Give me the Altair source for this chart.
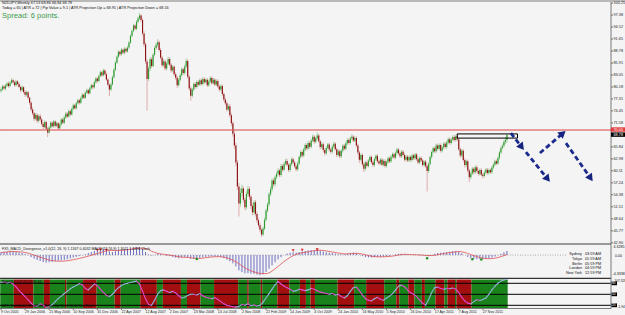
import altair as alt
import pandas as pd

# ---------------- data ----------------
first_open = 79.2
close = [
    79.6, 80.3, 79.8, 80.5, 81.0, 80.4, 81.2, 81.8, 81.3, 80.6,
    81.5, 80.9, 80.2, 79.4, 80.1, 79.0, 78.3, 78.9, 77.6, 76.4,
    74.8, 73.9, 72.6, 73.5, 72.1, 73.2, 72.4, 71.3, 70.6, 71.8,
    70.2, 69.3, 70.5, 71.6, 70.8, 71.9, 70.9, 71.5, 70.3, 71.2,
    72.4, 71.6, 72.9, 73.8, 73.1, 74.4, 73.6, 74.9, 75.8, 75.1,
    76.3, 77.0, 76.4, 77.5, 78.3, 77.6, 78.8, 79.4, 78.7, 79.9,
    80.6, 80.1, 81.3, 82.2, 81.6, 82.8, 83.7, 83.0, 84.1, 83.2,
    82.0, 80.7, 79.6, 80.8, 82.5, 84.3, 86.0, 87.4, 88.6, 88.0,
    89.1, 88.4, 89.3, 88.7, 89.6, 90.8, 92.4, 93.6, 94.9, 94.1,
    95.8, 96.6, 97.3, 96.2, 93.0, 90.4, 86.3, 82.1, 84.6, 86.8,
    85.2, 87.9, 89.5, 90.3, 90.9, 89.0, 87.2, 85.4, 86.3, 84.6,
    85.8, 86.9, 85.5, 84.1, 85.0, 83.2, 82.4, 80.6, 81.9, 83.0,
    84.4, 83.5, 85.1, 86.4, 82.6, 79.8, 78.1, 79.6, 80.9, 80.2,
    81.4, 80.7, 81.8, 80.9, 82.1, 81.3, 81.9, 80.6, 81.5, 82.3,
    81.1, 81.9, 80.8, 81.6, 80.3, 79.6, 80.4, 78.5, 77.2, 76.3,
    74.8, 75.6, 73.4, 71.5, 69.0, 66.2, 62.1, 56.4, 52.3, 54.8,
    55.9, 53.2, 51.4, 54.6, 55.8, 53.9, 51.7, 50.2, 52.6, 49.8,
    48.3, 47.1, 46.0, 44.9, 46.3, 48.4, 50.6, 52.1, 54.5, 55.7,
    57.8, 56.9, 58.6, 59.4, 60.2, 59.1, 61.3, 60.4, 61.8, 62.5,
    61.6, 60.3, 61.7, 62.9, 62.1, 61.2, 60.5, 61.9, 63.4, 64.6,
    63.8, 65.2, 66.3, 65.5, 66.8, 65.9, 67.4, 68.3, 67.1, 67.9,
    68.6, 67.2, 65.8, 66.5, 65.1, 64.3, 65.6, 66.4, 65.2, 64.7,
    65.9, 66.6, 65.3, 63.9, 64.8, 63.6, 64.9, 66.1, 65.4, 66.7,
    67.5, 66.8, 67.9, 68.3, 67.4, 68.0, 66.2, 64.5, 62.8, 63.9,
    61.7, 60.6, 62.1, 61.3, 62.6, 63.4, 62.2, 61.5, 62.9, 63.7,
    62.4, 61.9, 62.8, 61.6, 62.5, 61.3, 62.2, 63.1, 62.4, 63.5,
    64.1, 63.3, 64.4, 65.2, 64.3, 63.6, 64.7, 63.9, 62.8, 63.5,
    62.6, 63.4, 62.7, 63.8, 63.1, 64.0, 62.9, 62.1, 63.2, 62.6,
    61.5, 62.3, 61.2, 60.1, 61.8, 63.4, 64.6, 65.5, 64.8, 66.2,
    65.4, 66.3, 64.9, 65.7, 66.6, 65.8, 66.9, 67.7, 66.8, 67.6,
    68.2, 67.5, 68.4, 67.6, 65.3, 63.8, 64.9, 62.7, 61.5, 62.4,
    60.2, 58.6, 59.5, 60.6, 59.8, 61.0, 60.1, 59.4, 60.3, 59.2,
    58.9, 59.7, 60.4, 59.6, 60.3, 59.8, 60.9, 61.6, 62.4, 61.9,
    63.2, 64.5, 65.6, 66.1, 67.0, 67.53, 68.78,
]
high = [
    80.1, 80.7, 80.6, 80.9, 81.4, 81.5, 81.6, 82.3, 82.1, 81.7,
    81.9, 81.8, 81.3, 80.5, 80.6, 80.4, 79.4, 79.3, 79.2, 77.9,
    76.8, 75.3, 74.2, 74.0, 73.9, 73.6, 73.7, 72.8, 71.7, 72.2,
    72.1, 70.6, 70.9, 72.0, 71.9, 72.3, 72.2, 71.9, 71.8, 71.6,
    72.8, 72.7, 73.3, 74.2, 74.2, 74.8, 74.7, 75.3, 76.2, 76.1,
    76.7, 77.4, 77.3, 77.9, 78.7, 78.6, 79.2, 79.8, 79.7, 80.3,
    81.0, 80.9, 81.7, 82.6, 82.5, 83.2, 84.1, 84.0, 84.5, 84.4,
    83.6, 82.3, 81.0, 81.2, 82.9, 84.7, 86.4, 87.8, 89.0, 88.9,
    89.5, 89.4, 89.7, 89.6, 90.0, 91.2, 92.8, 94.0, 95.3, 95.2,
    96.2, 97.0, 97.9, 97.6, 96.6, 93.5, 90.9, 86.8, 85.1, 87.3,
    87.3, 88.3, 89.9, 90.8, 91.6, 91.3, 89.5, 87.6, 86.8, 86.7,
    86.2, 87.4, 87.3, 85.9, 85.4, 85.4, 83.7, 82.8, 82.3, 83.4,
    84.8, 84.8, 85.5, 87.0, 86.8, 83.0, 80.3, 80.0, 81.3, 81.3,
    81.8, 81.8, 82.2, 82.2, 82.5, 82.5, 82.3, 82.3, 81.9, 82.7,
    82.7, 82.3, 82.3, 82.0, 82.0, 80.7, 80.8, 80.8, 78.9, 77.6,
    76.7, 76.0, 76.1, 73.9, 72.0, 69.6, 66.8, 62.7, 57.2, 56.0,
    56.8, 56.4, 53.8, 55.2, 56.5, 56.3, 54.4, 52.3, 53.1, 53.1,
    50.3, 48.8, 47.6, 46.4, 46.8, 48.9, 51.1, 52.6, 55.0, 56.3,
    58.3, 58.3, 59.0, 59.9, 60.7, 60.6, 61.8, 61.7, 62.2, 63.0,
    63.0, 62.0, 62.1, 63.3, 63.3, 62.5, 61.6, 62.3, 63.8, 65.0,
    65.0, 65.6, 66.7, 66.7, 67.2, 67.2, 67.8, 68.8, 68.7, 68.3,
    69.3, 69.0, 67.6, 66.9, 66.9, 65.5, 66.0, 66.8, 66.8, 65.6,
    66.3, 67.0, 67.0, 65.7, 65.2, 65.2, 65.3, 66.5, 66.5, 67.1,
    67.9, 67.9, 68.3, 68.9, 68.7, 68.4, 68.4, 66.6, 64.9, 64.3,
    64.3, 62.2, 62.5, 62.6, 63.0, 63.8, 63.8, 62.6, 63.3, 64.1,
    64.1, 62.8, 63.2, 63.2, 62.9, 62.9, 62.6, 63.5, 63.5, 63.9,
    64.5, 64.5, 64.8, 65.6, 65.6, 64.7, 65.1, 65.1, 64.3, 63.9,
    63.9, 63.8, 63.8, 64.2, 64.2, 64.4, 64.4, 63.3, 63.6, 63.6,
    63.0, 62.7, 62.7, 61.6, 62.2, 63.8, 65.0, 65.9, 65.9, 66.6,
    66.6, 66.7, 66.7, 66.1, 67.0, 67.0, 67.3, 68.1, 68.1, 68.0,
    68.6, 68.6, 68.8, 69.0, 67.9, 65.7, 65.3, 65.3, 63.1, 62.8,
    62.8, 60.6, 59.9, 61.0, 61.0, 61.4, 61.4, 60.5, 60.7, 60.7,
    59.6, 60.1, 60.8, 60.8, 60.7, 60.7, 61.3, 62.0, 62.8, 62.8,
    63.6, 64.9, 66.0, 66.6, 67.5, 68.2, 68.86,
]
low = [
    78.8, 79.3, 79.5, 79.4, 80.2, 80.0, 80.1, 80.9, 80.9, 80.2,
    80.3, 80.5, 79.9, 78.9, 79.1, 78.6, 77.8, 77.9, 77.2, 75.9,
    74.3, 73.4, 72.0, 72.3, 71.6, 71.7, 71.9, 70.9, 70.1, 70.3,
    69.9, 68.2, 69.0, 70.2, 70.4, 70.5, 70.5, 70.6, 69.9, 69.9,
    70.9, 71.3, 71.3, 72.6, 72.7, 72.9, 73.3, 73.3, 74.6, 74.8,
    74.8, 76.0, 76.0, 76.1, 77.2, 77.3, 77.3, 78.5, 78.3, 78.4,
    79.6, 79.7, 79.8, 81.0, 81.2, 81.3, 82.5, 82.6, 82.7, 82.9,
    81.6, 80.3, 78.0, 79.2, 80.5, 82.2, 84.0, 85.7, 87.1, 87.6,
    87.7, 88.0, 88.0, 88.3, 88.4, 89.3, 90.5, 92.1, 93.3, 93.7,
    93.8, 95.4, 96.2, 95.7, 92.5, 89.8, 85.7, 74.5, 81.6, 84.0,
    84.7, 84.9, 87.5, 89.1, 89.8, 88.6, 86.8, 84.9, 85.0, 84.1,
    84.2, 85.4, 85.1, 83.6, 83.7, 82.8, 81.9, 79.9, 80.2, 81.5,
    82.7, 83.1, 83.1, 84.8, 82.2, 79.3, 76.9, 77.6, 79.2, 79.8,
    79.8, 80.3, 80.4, 80.5, 80.6, 80.9, 81.0, 80.2, 80.2, 81.2,
    80.7, 80.8, 80.4, 80.4, 79.9, 79.1, 79.2, 78.0, 76.7, 75.8,
    74.3, 74.4, 72.9, 70.9, 68.3, 65.4, 61.3, 55.6, 49.2, 51.6,
    53.9, 52.6, 50.7, 50.9, 54.0, 53.2, 51.0, 49.5, 49.6, 49.2,
    47.7, 46.6, 45.5, 44.3, 44.5, 45.9, 48.0, 50.1, 51.6, 54.0,
    55.2, 56.3, 56.4, 58.1, 58.9, 58.6, 58.7, 59.9, 60.0, 61.4,
    61.2, 59.8, 59.9, 61.3, 61.7, 60.8, 60.0, 60.1, 61.5, 63.0,
    63.3, 63.4, 64.8, 65.0, 65.1, 65.4, 65.5, 67.0, 66.6, 66.7,
    67.5, 66.8, 65.3, 65.3, 64.6, 63.8, 63.9, 65.2, 64.7, 64.2,
    64.3, 65.5, 64.9, 63.4, 63.5, 63.1, 63.2, 64.5, 65.0, 65.0,
    66.3, 66.4, 66.4, 67.5, 67.0, 67.0, 65.8, 63.9, 62.0, 62.4,
    61.2, 59.8, 60.2, 60.9, 60.9, 62.2, 61.8, 61.0, 61.1, 62.5,
    62.0, 61.5, 61.5, 61.2, 61.2, 60.9, 60.9, 61.8, 62.0, 62.0,
    63.1, 62.9, 62.9, 64.0, 63.9, 63.2, 63.2, 63.5, 62.3, 62.4,
    62.2, 62.2, 62.3, 62.3, 62.7, 62.7, 62.5, 61.7, 61.7, 62.2,
    61.1, 61.1, 60.8, 55.2, 59.6, 61.4, 63.0, 64.2, 64.4, 64.4,
    65.0, 65.0, 64.5, 64.5, 65.3, 65.4, 65.4, 66.5, 66.4, 66.4,
    67.2, 67.1, 67.1, 67.2, 64.8, 63.3, 63.4, 62.2, 60.9, 61.0,
    59.7, 57.4, 58.1, 59.1, 59.3, 59.4, 59.7, 59.0, 59.0, 58.8,
    58.3, 58.5, 59.3, 59.2, 59.2, 59.4, 59.4, 60.5, 61.2, 61.5,
    61.5, 62.8, 64.1, 65.2, 65.7, 66.5, 66.84,
]

# MACD histogram, one value every 2 weeks
macd_hist = [
    1.2, 1.3, 1.4, 1.4, 1.5, 1.4, 1.1, 0.8, 0.4, -0.1,
    -0.8, -1.4, -1.9, -2.3, -2.7, -2.9, -2.8, -2.6, -2.4, -2.2,
    -2.1, -1.9, -1.6, -1.3, -1.0, -0.7, -0.4, -0.1, 0.3, 0.8,
    1.2, 1.6, 2.0, 2.3, 2.5, 2.2, 1.5, 1.2, 1.5, 1.9,
    2.2, 2.3, 2.4, 2.6, 2.9, 3.0, 3.1, 2.4, 1.2, 0.3,
    -0.2, 0.1, 0.5, 0.4, 0.0, -0.3, -0.4, -0.7, -1.0, -1.2,
    -1.0, -0.7, -0.9, -1.4, -1.5, -1.3, -1.1, -0.9, -0.7, -0.6,
    -0.5, -0.5, -0.6, -0.8, -1.2, -1.8, -2.4, -3.2, -4.4, -5.9,
    -6.6, -7.1, -7.0, -7.2, -7.3, -7.6, -7.8, -7.5, -6.6, -5.3,
    -4.0, -2.8, -1.7, -0.8, 0.0, 0.6, 0.9, 1.1, 1.0, 1.2,
    1.4, 1.6, 1.8, 1.9, 2.0, 2.0, 1.8, 1.4, 1.1, 0.9,
    0.8, 0.6, 0.3, 0.2, 0.3, 0.6, 0.9, 1.0, 0.8, 0.2,
    -0.4, -0.8, -0.9, -0.9, -0.8, -0.7, -0.7, -0.6, -0.5, -0.3,
    0.0, 0.3, 0.5, 0.5, 0.3, 0.1, 0.0, 0.0, 0.0, -0.1,
    -0.2, -0.4, -0.4, 0.0, 0.5, 0.8, 0.9, 1.0, 1.1, 1.3,
    1.5, 1.6, 1.3, 0.7, 0.0, -0.7, -1.3, -1.5, -1.6, -1.6,
    -1.6, -1.5, -1.3, -1.0, -0.6, -0.1, 0.5, 1.1, 1.6,
]
# MACD signal line, one value every 4 weeks
macd_signal = [
    1.0, 1.2, 1.4, 1.3, 1.0, 0.4, -0.4, -1.2, -1.9, -2.3,
    -2.4, -2.2, -1.8, -1.3, -0.7, -0.1, 0.6, 1.3, 1.8, 1.8,
    1.8, 2.1, 2.4, 2.7, 2.6, 1.5, 0.7, 0.3, 0.0, -0.4,
    -0.8, -0.9, -1.2, -1.3, -1.0, -0.7, -0.6, -0.8, -1.5, -2.6,
    -4.2, -5.6, -6.5, -7.1, -7.2, -6.2, -4.4, -2.5, -0.9, 0.3,
    0.9, 1.3, 1.7, 1.9, 1.6, 1.2, 0.8, 0.5, 0.5, 0.7,
    0.4, -0.2, -0.6, -0.7, -0.6, -0.4, 0.0, 0.3, 0.2, 0.1,
    0.0, -0.2, -0.1, 0.4, 0.8, 1.1, 1.4, 1.0, 0.2, -0.6,
    -1.2, -1.4, -1.2, -0.6, 0.2,
]
macd_up_marks_w = [64, 66, 70, 194, 200, 210]
macd_up_marks_v = [2.0, 2.1, 2.0, 1.8, 2.0, 2.1]
macd_dn_marks_w = [130, 283, 313, 319]
macd_dn_marks_v = [-1.5, -1.2, -1.6, -1.7]

# oscillator, one value every 2 weeks
osc_values = [
    82, 84, 81, 83, 78, 70, 60, 52, 44, 35,
    26, 19, 17, 24, 20, 14, 16, 22, 30, 38,
    45, 52, 58, 65, 70, 74, 79, 76, 66, 62,
    70, 78, 74, 64, 55, 47, 44, 50, 60, 68,
    74, 78, 80, 82, 84, 86, 78, 58, 38, 22,
    20, 34, 50, 60, 62, 58, 55, 58, 54, 46,
    40, 42, 47, 50, 50, 48, 52, 46, 42, 40,
    38, 41, 36, 30, 24, 20, 18, 16, 15, 17,
    22, 20, 24, 19, 21, 18, 20, 28, 40, 52,
    64, 76, 85, 78, 72, 68, 64, 58, 60, 64,
    62, 60, 62, 66, 64, 60, 56, 54, 52, 50,
    52, 48, 50, 44, 40, 46, 58, 68, 70, 60,
    48, 38, 34, 32, 38, 42, 36, 34, 40, 45,
    52, 62, 72, 75, 70, 62, 54, 50, 44, 34,
    26, 20, 36, 55, 68, 70, 66, 64, 66, 65,
    67, 64, 55, 42, 32, 26, 24, 30, 35, 33,
    36, 40, 50, 62, 72, 80, 86, 89, 91,
]
osc_levels = [80, 50, 20]
# background bars of the oscillator panel: (colour code, number of weeks)
stripe_runs = [
    ("G", 9), ("R", 13), ("G", 7), ("R", 4), ("G", 10), ("R", 1), ("G", 11),
    ("R", 9), ("G", 12), ("R", 4), ("G", 13), ("R", 11), ("G", 4), ("R", 12),
    ("G", 4), ("R", 9), ("G", 9), ("R", 16), ("G", 6), ("R", 1), ("G", 8),
    ("R", 1), ("G", 10), ("R", 8), ("G", 7), ("R", 4), ("G", 3), ("R", 3),
    ("G", 15), ("R", 11), ("G", 8), ("R", 12), ("G", 8), ("R", 2), ("G", 6),
    ("R", 4), ("G", 5), ("R", 2), ("G", 7), ("R", 6), ("G", 2), ("R", 5),
    ("G", 1), ("R", 10), ("G", 24),
]

date_labels = ["9 Oct 2005", "29 Jan 2006", "21 May 2006", "10 Sep 2006", "31 Dec 2006",
               "22 Apr 2007", "12 Aug 2007", "2 Dec 2007", "23 Mar 2008", "13 Jul 2008",
               "2 Nov 2008", "22 Feb 2009", "14 Jun 2009", "4 Oct 2009", "24 Jan 2010",
               "16 May 2010", "5 Sep 2010", "26 Dec 2010", "17 Apr 2011", "7 Aug 2011",
               "27 Nov 2011"]
label_step_weeks = 16
price_ticks = [100.25, 97.38, 94.52, 91.65, 88.78, 85.91, 83.05, 80.18, 77.31, 74.45,
               71.58, 65.84, 62.98, 60.11, 57.24, 54.38, 51.51, 48.64, 45.77, 42.90]
resistance_level = 70.00
last_price = 68.78

box_w = [303, 343]
box_p = [68.95, 67.95]
arrow_w1 = [338.6, 348.6, 357.9, 375.2]
arrow_p1 = [69.15, 64.6, 64.37, 66.75]
arrow_w2 = [345.3, 362.5, 372.5, 391.1]
arrow_p2 = [66.04, 58.4, 68.9, 58.6]
arrow_angles = [142, 141, 49, 145]

clock_cities = ["Sydney", "Tokyo", "Berlin", "London", "New York"]
clock_times = ["03:59 AM", "01:59 AM", "05:59 PM", "04:59 PM", "12:59 PM"]

# ---------------- scales ----------------
W, H = 625, 315
XS = alt.Scale(domain=[-0.664, 414.4], nice=False, zero=False)
PS = alt.Scale(domain=[42.90, 100.25], range=[242.8, 3.1], nice=False, zero=False)
MS = alt.Scale(domain=[-8.5, 4.3], range=[277.0, 244.0], nice=False, zero=False)
OS = alt.Scale(domain=[20, 80], range=[305.3, 283.3], nice=False, zero=False)
FONT = "Liberation Sans"


def one(**kw):
    return pd.DataFrame({k: [v] for k, v in kw.items()})


def label(txt, x, y, size=3.8, color="#111111", align="left", weight="normal"):
    return alt.Chart(one(t=txt)).mark_text(
        align=align, baseline="middle", fontSize=size, font=FONT,
        color=color, fontWeight=weight).encode(
        x=alt.value(x), y=alt.value(y), text="t:N")


def pxrect(x1, x2, y1, y2, color):
    return alt.Chart(one(k=0)).mark_rect().encode(
        x=alt.value(x1), x2=alt.value(x2), y=alt.value(y1), y2=alt.value(y2),
        color=alt.value(color))


def pxrule(x1, x2, y1, y2, color, width=1.0):
    return alt.Chart(one(k=0)).mark_rule(strokeWidth=width).encode(
        x=alt.value(x1), x2=alt.value(x2), y=alt.value(y1), y2=alt.value(y2),
        color=alt.value(color))


layers = []
layers.append(pxrect(0, W, 0, 2, "#b9b9b9"))

# oscillator panel background stripes
stripe_col = {"G": "#1a821a", "R": "#a30f0f"}
a_, b_, c_ = [], [], []
s = 0
for code, ln in stripe_runs:
    a_.append(s - 0.5)
    b_.append(s + ln - 0.5)
    c_.append(stripe_col[code])
    s += ln
sdf = pd.DataFrame({"a": a_, "b": b_, "col": c_})
layers.append(alt.Chart(sdf).mark_rect().encode(
    x=alt.X("a:Q", scale=XS, axis=None), x2="b:Q",
    y=alt.value(279.5), y2=alt.value(308.2),
    color=alt.Color("col:N", scale=None)))

# oscillator level lines
ldf = pd.DataFrame({"lv": osc_levels})
layers.append(alt.Chart(ldf).mark_rule(strokeWidth=1).encode(
    x=alt.value(0), x2=alt.value(611), y=alt.Y("lv:Q", scale=OS, axis=None),
    color=alt.value("#000000")))

# oscillator line (coloured by direction)
ow = list(range(0, 2 * len(osc_values), 2))
seg = pd.DataFrame({"w1": ow[:-1], "w2": ow[1:], "v1": osc_values[:-1], "v2": osc_values[1:]})
seg["col"] = ["#e04ad0" if b < a else "#93b3d8" for a, b in zip(seg.v1, seg.v2)]
layers.append(alt.Chart(seg).mark_rule(strokeWidth=1.1, strokeCap="round").encode(
    x=alt.X("w1:Q", scale=XS, axis=None), x2="w2:Q",
    y=alt.Y("v1:Q", scale=OS, axis=None), y2="v2:Q",
    color=alt.Color("col:N", scale=None)))

# panel frames
layers.append(pxrule(0, 611, 244, 244, "#7a7a7a", 1.3))
layers.append(pxrule(0, 611, 278.3, 278.3, "#333333", 1.3))
layers.append(pxrule(0, 611, 308.5, 308.5, "#7a7a7a", 1.0))
layers.append(pxrule(611, 611, 2, 308.5, "#7a7a7a", 1.0))

# MACD panel
mdf = pd.DataFrame({"w": list(range(0, 2 * len(macd_hist), 2)), "v": macd_hist})
mdf["z"] = 0.0
layers.append(alt.Chart(one(z=0.0)).mark_rule(strokeWidth=0.8, strokeDash=[1, 1.5]).encode(
    x=alt.value(0), x2=alt.value(567), y=alt.Y("z:Q", scale=MS, axis=None),
    color=alt.value("#9a9a9a")))
layers.append(alt.Chart(mdf).mark_rule(strokeWidth=1).encode(
    x=alt.X("w:Q", scale=XS, axis=None),
    y=alt.Y("z:Q", scale=MS, axis=None), y2="v:Q",
    color=alt.value("#6e6ec2")))
sgdf = pd.DataFrame({"w": list(range(0, 4 * len(macd_signal), 4)), "v": macd_signal})
layers.append(alt.Chart(sgdf).mark_line(strokeWidth=0.8, interpolate="monotone").encode(
    x=alt.X("w:Q", scale=XS, axis=None), y=alt.Y("v:Q", scale=MS, axis=None),
    color=alt.value("#e05050")))
layers.append(alt.Chart(pd.DataFrame({"w": macd_up_marks_w, "v": macd_up_marks_v})).mark_point(
    shape="triangle-down", filled=True, size=9, opacity=1).encode(
    x=alt.X("w:Q", scale=XS, axis=None), y=alt.Y("v:Q", scale=MS, axis=None),
    color=alt.value("#d42020")))
layers.append(alt.Chart(pd.DataFrame({"w": macd_dn_marks_w, "v": macd_dn_marks_v})).mark_point(
    shape="circle", filled=True, size=6, opacity=1).encode(
    x=alt.X("w:Q", scale=XS, axis=None), y=alt.Y("v:Q", scale=MS, axis=None),
    color=alt.value("#1f8f1f")))

# candles
n = len(close)
opens = [first_open] + close[:-1]
up = [c >= o for o, c in zip(opens, close)]
cdf = pd.DataFrame({"w": list(range(n)), "o": opens, "c": close, "h": high[:n], "l": low[:n]})
cdf["wick"] = ["#9ccc9c" if u else "#dca4a4" for u in up]
cdf["body"] = ["#2f9b2f" if u else "#8c1212" for u in up]
layers.append(alt.Chart(cdf).mark_rule(strokeWidth=0.9).encode(
    x=alt.X("w:Q", scale=XS, axis=None),
    y=alt.Y("l:Q", scale=PS, axis=None), y2="h:Q",
    color=alt.Color("wick:N", scale=None)))
layers.append(alt.Chart(cdf).mark_rule(strokeWidth=1.15).encode(
    x=alt.X("w:Q", scale=XS, axis=None),
    y=alt.Y("o:Q", scale=PS, axis=None), y2="c:Q",
    color=alt.Color("body:N", scale=None)))

# resistance line (drawn as a thin red band on the price scale)
layers.append(alt.Chart(one(p=resistance_level, q=resistance_level - 0.22)).mark_rect(
    fill="#e25a5a", stroke="#e25a5a", strokeWidth=0.2, opacity=0.95).encode(
    x=alt.value(0), x2=alt.value(611),
    y=alt.Y("p:Q", scale=PS, axis=None), y2="q:Q"))

# range box
layers.append(alt.Chart(one(w1=box_w[0], w2=box_w[1], p1=box_p[0], p2=box_p[1])).mark_rect(
    fillOpacity=0, stroke="#000000", strokeWidth=1).encode(
    x=alt.X("w1:Q", scale=XS, axis=None), x2="w2:Q",
    y=alt.Y("p1:Q", scale=PS, axis=None), y2="p2:Q"))

# arrows
adf = pd.DataFrame({"w1": arrow_w1, "p1": arrow_p1, "w2": arrow_w2, "p2": arrow_p2})
layers.append(alt.Chart(adf).mark_rule(strokeWidth=2.8, strokeDash=[5, 3]).encode(
    x=alt.X("w1:Q", scale=XS, axis=None), x2="w2:Q",
    y=alt.Y("p1:Q", scale=PS, axis=None), y2="p2:Q",
    color=alt.value("#1b2a8c")))
for i, ang in enumerate(arrow_angles):
    layers.append(alt.Chart(adf.iloc[[i]]).mark_point(
        shape="triangle", filled=True, size=70, angle=ang, opacity=1).encode(
        x=alt.X("w2:Q", scale=XS, axis=None), y=alt.Y("p2:Q", scale=PS, axis=None),
        color=alt.value("#16237f")))

# right price axis
tdf = pd.DataFrame({"p": price_ticks})
layers.append(alt.Chart(tdf).mark_rule(strokeWidth=0.8).encode(
    x=alt.value(611), x2=alt.value(613), y=alt.Y("p:Q", scale=PS, axis=None),
    color=alt.value("#555555")))
layers.append(alt.Chart(tdf).mark_text(align="left", baseline="middle", fontSize=3.8, font=FONT).encode(
    x=alt.value(613.5), y=alt.Y("p:Q", scale=PS, axis=None), text=alt.Text("p:Q", format=".2f"),
    color=alt.value("#222222")))
pbox = pd.DataFrame({"p": [resistance_level, last_price], "col": ["#e23b3b", "#000000"]})
layers.append(alt.Chart(pbox).mark_rule(strokeWidth=4.4).encode(
    x=alt.value(611), x2=alt.value(625), y=alt.Y("p:Q", scale=PS, axis=None),
    color=alt.Color("col:N", scale=None)))
layers.append(alt.Chart(pbox).mark_text(align="left", baseline="middle", fontSize=3.8, font=FONT).encode(
    x=alt.value(613.5), y=alt.Y("p:Q", scale=PS, axis=None), text=alt.Text("p:Q", format=".2f"),
    color=alt.value("#ffffff")))

# MACD / oscillator right labels
layers.append(label("4.3285", 613.5, 246.7, 3.6))
layers.append(label("0.00", 615, 255.7, 3.6))
layers.append(label("-4.3338", 612.5, 274.3, 3.6))
layers.append(label("107.328", 614.5, 280.8, 3.2))
layers.append(alt.Chart(ldf).mark_rule(strokeWidth=3.8).encode(
    x=alt.value(611.5), x2=alt.value(617), y=alt.Y("lv:Q", scale=OS, axis=None),
    color=alt.value("#000000")))
layers.append(alt.Chart(ldf).mark_text(align="left", baseline="middle", fontSize=3.2, font=FONT).encode(
    x=alt.value(612), y=alt.Y("lv:Q", scale=OS, axis=None), text="lv:N",
    color=alt.value("#ffffff")))
layers.append(label("-1.94", 617.5, 306.5, 3.2))

# date axis
ddf = pd.DataFrame({"w": list(range(0, label_step_weeks * len(date_labels), label_step_weeks)), "t": date_labels})
layers.append(alt.Chart(ddf).mark_rule(strokeWidth=0.8).encode(
    x=alt.X("w:Q", scale=XS, axis=None), y=alt.value(308.5), y2=alt.value(310),
    color=alt.value("#555555")))
layers.append(alt.Chart(ddf).mark_text(align="left", baseline="middle", fontSize=3.6, font=FONT).encode(
    x=alt.X("w:Q", scale=XS, axis=None), y=alt.value(312), text="t:N",
    color=alt.value("#222222")))

# header texts
layers.append(label("NZDJPY,Weekly  67.53 68.86 66.84 68.78", 2, 3.0, 3.8))
layers.append(label("Today = 65   |   ATR = 72   |   Pip Value = 9.1   |   ATR Projection Up = 68.95   |   ATR Projection Down = 68.16",
                    2, 7.6, 3.8))
layers.append(label("Spread: 6 points.", 2, 15.8, 7.6, color="#3b9a4e"))
layers.append(label("FX5_MACD_Divergence_v1.0(12, 26, 9) 1.1347 0.4032   MACD(12,26,9) 1.3011 1.0396   Clock",
                    2, 249.3, 3.6))
layers.append(label("Stoch(10,3,3) 91.02 86.44", 2, 282.4, 3.4, color="#101010"))
layers.append(label("MTF_Stochastic_Bars(10,3,3) Weekly 91.02 86.44 Buy Zone", 2, 305.6, 3.4, color="#101010"))

# clock
clock_y = [254.3, 258.9, 263.5, 268.2, 272.9]
for city, tm, yy in zip(clock_cities, clock_times, clock_y):
    layers.append(label(city, 582, yy, 3.8, align="right"))
    layers.append(label(tm, 585, yy, 3.8))

chart = alt.layer(*layers).resolve_scale(y="independent").properties(
    width=W, height=H, background="#f4f4f4", padding=0,
    autosize=alt.AutoSizeParams(type="none")
).configure_view(strokeWidth=0)

chart.save("out.html", embed_options={"renderer": "svg", "actions": False})
